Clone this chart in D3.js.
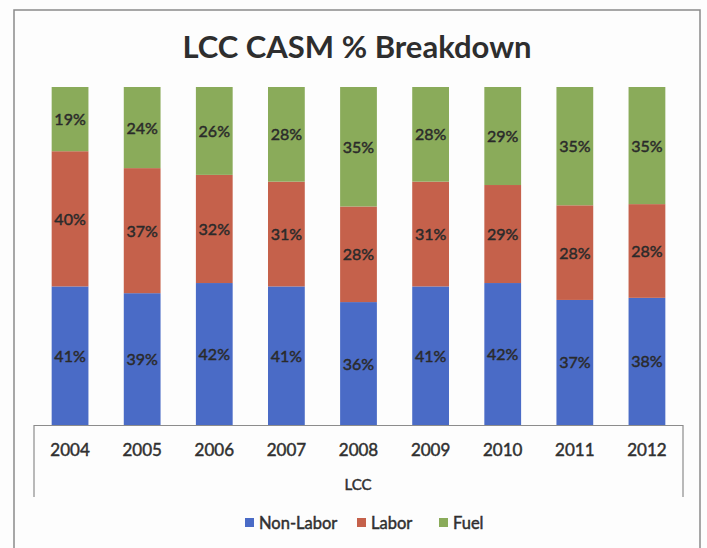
<!DOCTYPE html>
<html>
<head>
<meta charset="utf-8"/>
<title>LCC CASM % Breakdown</title>
<script src="https://d3js.org/d3.v7.min.js"></script>
<style>
  body { margin: 0; background: #fff; }
  svg text { font-family: Lato, "Open Sans", sans-serif; fill: #333; }
  svg text.heavy { stroke: #2a2a2a; stroke-width: 0.45px; }
</style>
</head>
<body>
<div id="chart"></div>
<script>
// data
var years = ["2004", "2005", "2006", "2007", "2008", "2009", "2010", "2011", "2012"];
var nonLabor = [41, 39, 42, 41, 36, 41, 42, 37, 38];
var labor    = [40, 37, 32, 31, 28, 31, 29, 28, 28];
var fuel     = [19, 24, 26, 28, 35, 28, 29, 35, 35];
var seriesNames = ["Non-Labor", "Labor", "Fuel"];
var groupLabel = "LCC";

var colors = ["#4a6bc6", "#c5614b", "#8aab5a"];

var width = 707, height = 548;

var rows = years.map(function(y, i) {
    return { year: y, "Non-Labor": nonLabor[i], "Labor": labor[i], "Fuel": fuel[i] };
});

var svg = d3.select("#chart").append("svg")
    .attr("width", width)
    .attr("height", height);

svg.append("rect")
    .attr("width", width).attr("height", height)
    .attr("fill", "#fdfdfd");

// outer chart border
svg.append("rect")
    .attr("x", 14).attr("y", 10)
    .attr("width", 686).attr("height", 560)
    .attr("fill", "none")
    .attr("stroke", "#8a8a8a")
    .attr("stroke-width", 1.5);

svg.append("text")
    .attr("x", 357).attr("y", 58)
    .attr("text-anchor", "middle")
    .style("font-size", "31px")
    .style("font-weight", "bold")
    .style("fill", "#2e2e2e")
    .text("LCC CASM % Breakdown");

var x = d3.scaleBand()
    .domain(years)
    .range([34, 683])
    .paddingInner(0.49)
    .paddingOuter(0.245);

var y = d3.scaleLinear()
    .domain([0, 1])
    .range([425, 87]);

var stack = d3.stack()
    .keys(seriesNames)
    .offset(d3.stackOffsetExpand);
var layers = stack(rows);

var g = svg.append("g");
var layer = g.selectAll(".layer")
    .data(layers)
    .enter().append("g")
    .attr("class", "layer")
    .attr("fill", function(d, i) { return colors[i]; });

layer.selectAll("rect")
    .data(function(d) { return d; })
    .enter().append("rect")
    .attr("x", function(d) { return x(d.data.year); })
    .attr("y", function(d) { return y(d[1]); })
    .attr("width", x.bandwidth())
    .attr("height", function(d) { return y(d[0]) - y(d[1]); });

// value labels
layers.forEach(function(l) {
    g.selectAll(".lbl-" + l.index)
        .data(l)
        .enter().append("text")
        .attr("class", "heavy")
        .attr("x", function(d) { return x(d.data.year) + x.bandwidth() / 2; })
        .attr("y", function(d) { return (y(d[0]) + y(d[1])) / 2 + 6; })
        .attr("text-anchor", "middle")
        .style("font-size", "16px")
        .style("fill", "#2a2a2a")
        .text(function(d) { return d.data[l.key] + "%"; });
});

// category axis with group box
var axis = svg.append("g").attr("stroke", "#8c8c8c").attr("stroke-width", 1.2);
axis.append("line").attr("x1", 34).attr("x2", 683).attr("y1", 425.5).attr("y2", 425.5);
axis.append("line").attr("x1", 34).attr("x2", 34).attr("y1", 425).attr("y2", 497);
axis.append("line").attr("x1", 683).attr("x2", 683).attr("y1", 425).attr("y2", 497);

svg.selectAll(".year")
    .data(years)
    .enter().append("text")
    .attr("class", "year heavy")
    .attr("x", function(d) { return x(d) + x.bandwidth() / 2; })
    .attr("y", 456)
    .attr("text-anchor", "middle")
    .style("font-size", "17px")
    .text(function(d) { return d; });

svg.append("text")
    .attr("class", "heavy")
    .attr("x", 358).attr("y", 490)
    .attr("text-anchor", "middle")
    .style("font-size", "15px")
    .text(groupLabel);

// legend
var legendX = [245, 357, 439];
var legend = svg.selectAll(".legend")
    .data(seriesNames)
    .enter().append("g")
    .attr("class", "legend")
    .attr("transform", function(d, i) { return "translate(" + legendX[i] + ",523)"; });
legend.append("rect")
    .attr("x", 0).attr("y", -5)
    .attr("width", 9).attr("height", 9)
    .attr("fill", function(d, i) { return colors[i]; });
legend.append("text")
    .attr("class", "heavy")
    .attr("x", 14).attr("y", 6)
    .style("font-size", "16.5px")
    .text(function(d) { return d; });
</script>
</body>
</html>
